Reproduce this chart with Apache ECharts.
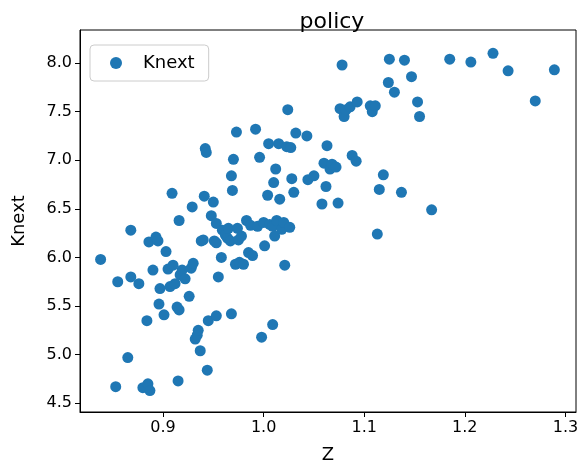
<!DOCTYPE html>
<html><head><meta charset="utf-8">
<script src="https://cdn.jsdelivr.net/npm/echarts@6/dist/echarts.min.js"></script>
<style>html,body{margin:0;padding:0;background:#fff}#c{width:588px;height:472px}</style>
</head><body><div id="c"></div>
<script>
const zVals=[0.838,0.853,0.855,0.865,0.868,0.868,0.876,0.880,0.884,0.885,0.886,0.887,0.890,0.893,0.895,0.896,0.897,0.901,0.903,0.905,0.907,0.909,0.910,0.912,0.914,0.915,0.916,0.916,0.917,0.919,0.922,0.926,0.928,0.929,0.930,0.932,0.934,0.935,0.937,0.938,0.940,0.941,0.942,0.943,0.944,0.945,0.948,0.950,0.951,0.953,0.953,0.953,0.955,0.958,0.959,0.962,0.964,0.965,0.967,0.968,0.968,0.969,0.970,0.972,0.973,0.974,0.975,0.976,0.978,0.980,0.983,0.985,0.987,0.989,0.992,0.994,0.996,0.998,1.000,1.001,1.004,1.005,1.006,1.009,1.009,1.010,1.011,1.012,1.013,1.015,1.016,1.018,1.020,1.021,1.023,1.024,1.026,1.027,1.028,1.030,1.032,1.043,1.044,1.050,1.058,1.060,1.062,1.063,1.066,1.068,1.072,1.074,1.076,1.078,1.080,1.082,1.086,1.088,1.092,1.093,1.106,1.108,1.111,1.113,1.115,1.119,1.124,1.125,1.130,1.137,1.140,1.147,1.153,1.155,1.167,1.185,1.206,1.228,1.243,1.270,1.289];
const knextVals=[5.98,4.67,5.75,4.97,6.28,5.80,5.73,4.66,5.35,4.70,6.16,4.63,5.87,6.21,6.17,5.52,5.68,5.41,6.06,5.88,5.70,6.66,5.92,5.73,5.49,4.73,5.46,6.38,5.82,5.87,5.78,5.60,5.89,6.52,5.94,5.16,5.20,5.25,5.04,6.17,6.18,6.63,7.12,7.08,4.84,5.35,6.43,6.57,6.17,5.40,6.35,6.15,5.80,6.00,6.28,6.23,6.20,6.30,6.17,5.42,6.84,6.69,7.01,5.93,7.29,6.30,6.18,5.95,6.22,5.93,6.38,6.05,6.33,6.02,7.32,6.32,7.03,5.18,6.36,6.12,6.64,7.17,6.34,6.32,5.31,6.77,6.22,6.91,6.38,7.17,6.60,6.29,6.36,5.92,7.14,7.52,6.31,7.13,6.81,6.67,7.28,7.25,6.80,6.84,6.55,6.97,6.73,7.15,6.91,6.96,6.93,6.56,7.53,7.98,7.45,7.52,7.55,7.05,6.99,7.60,7.56,7.50,7.56,6.24,6.70,6.85,7.80,8.04,7.70,6.67,8.03,7.86,7.60,7.45,6.49,8.04,8.01,8.10,7.92,7.61,7.93];
const xTicks=[0.9,1.0,1.1,1.2,1.3];
const yTicks=[4.5,5.0,5.5,6.0,6.5,7.0,7.5,8.0];
const data=zVals.map((z,i)=>[z,knextVals[i]]);
const F='DejaVu Sans';
const chart=echarts.init(document.getElementById('c'));
chart.setOption({
  animation:false,
  title:{text:'policy',left:327,top:6,textAlign:'center',textStyle:{fontFamily:F,fontSize:22,fontWeight:'normal',color:'#000'}},
  legend:{left:90,top:45,itemWidth:12,itemHeight:12,padding:[9,14,9,20],itemGap:10,borderColor:'#ccc',borderWidth:1,borderRadius:4,
    textStyle:{fontFamily:F,fontSize:18,color:'#000',padding:[0,0,0,16]},data:[{name:'Knext',icon:'circle'}]},
  grid:{left:80,right:12,top:30,bottom:60},
  xAxis:{type:'value',min:0.8175,max:1.3105,name:'Z',nameLocation:'middle',nameGap:34,
    nameTextStyle:{fontFamily:F,fontSize:18,color:'#000'},
    axisLine:{lineStyle:{color:'#000'}},splitLine:{show:false},
    axisTick:{show:true,customValues:xTicks,length:5,lineStyle:{color:'#000'}},
    axisLabel:{customValues:xTicks,fontFamily:F,fontSize:16,margin:8,color:'#000',formatter:v=>v.toFixed(1)}},
  yAxis:{type:'value',min:4.41,max:8.34,name:'Knext',nameLocation:'middle',nameGap:52,
    nameTextStyle:{fontFamily:F,fontSize:18,color:'#000'},
    axisLine:{show:true,lineStyle:{color:'#000'}},splitLine:{show:false},
    axisTick:{show:true,customValues:yTicks,length:5,lineStyle:{color:'#000'}},
    axisLabel:{customValues:yTicks,fontFamily:F,fontSize:16,margin:8,color:'#000',formatter:v=>v.toFixed(1)}},
  series:[{name:'Knext',type:'scatter',symbolSize:11,itemStyle:{color:'#1f77b4',opacity:1},data:data}],
  graphic:[{type:'rect',shape:{x:80,y:30,width:496,height:382},style:{fill:'none',stroke:'#000',lineWidth:1},silent:true}]
});
</script></body></html>
